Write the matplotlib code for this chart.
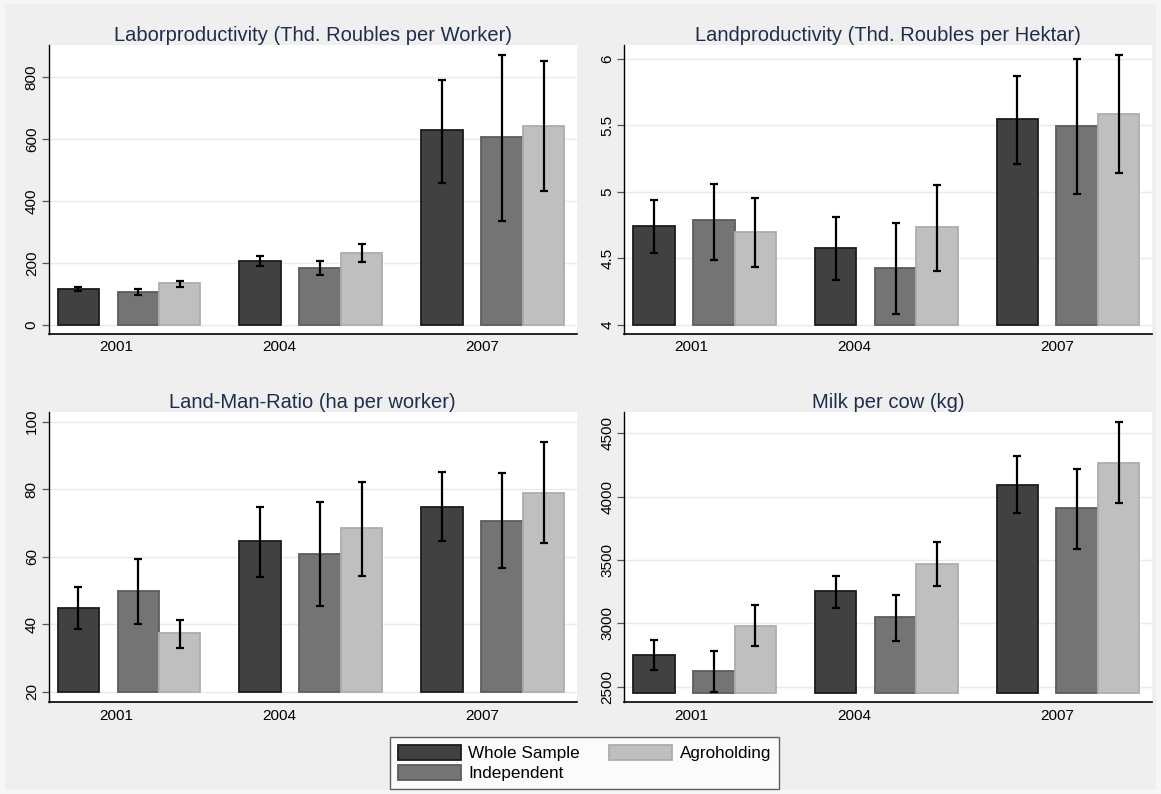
import matplotlib
matplotlib.use("Agg")
import matplotlib.pyplot as plt
import numpy as np
from matplotlib.patches import Patch, Rectangle

plt.rcParams['font.family'] = ['Liberation Sans', 'DejaVu Sans']

years = ["2001", "2004", "2007"]
groups = ["Whole Sample", "Independent", "Agroholding"]

# rows: Whole Sample, Independent, Agroholding ; columns: 2001, 2004, 2007
labor_mean = [[116, 208, 628], [105, 183, 606], [134, 231, 644]]
labor_lo = [[110, 192, 459], [97, 161, 336], [124, 202, 433]]
labor_hi = [[124, 224, 791], [117, 205, 872], [143, 263, 853]]

land_mean = [[4.742, 4.576, 5.546], [4.787, 4.426, 5.499], [4.697, 4.734, 5.584]]
land_lo = [[4.541, 4.338, 5.211], [4.489, 4.083, 4.987], [4.436, 4.409, 5.143]]
land_hi = [[4.942, 4.812, 5.872], [5.063, 4.769, 6.0], [4.957, 5.055, 6.033]]

ratio_mean = [[44.8, 64.7, 74.8], [49.7, 60.7, 70.7], [37.5, 68.4, 79.0]]
ratio_lo = [[38.7, 54.0, 64.6], [40.0, 45.4, 56.6], [33.0, 54.3, 64.0]]
ratio_hi = [[51.0, 74.7, 85.2], [59.4, 76.1, 84.8], [41.3, 82.2, 94.0]]

milk_mean = [[2750, 3258, 4095], [2626, 3047, 3908], [2982, 3471, 4268]]
milk_lo = [[2632, 3121, 3874], [2461, 2863, 3587], [2821, 3295, 3950]]
milk_hi = [[2871, 3376, 4321], [2784, 3226, 4218], [3145, 3642, 4587]]

fills = ["#414141", "#747474", "#bfbfbf"]
edges = ["#1c1c1c", "#5c5c5c", "#adadad"]
navy = "#1f2d4d"
W, H = 1161, 794

# panel layout in pixels: left, right, top, bottom
panels = [
    ("Laborproductivity (Thd. Roubles per Worker)", labor_mean, labor_lo, labor_hi,
     0, [0, 200, 400, 600, 800], ["0", "200", "400", "600", "800"], (-27.5, 904),
     (48.5, 577, 45, 333.5)),
    ("Landproductivity (Thd. Roubles per Hektar)", land_mean, land_lo, land_hi,
     4, [4, 4.5, 5, 5.5, 6], ["4", "4.5", "5", "5.5", "6"], (3.936, 6.105),
     (624.3, 1152, 45, 333.5)),
    ("Land-Man-Ratio (ha per worker)", ratio_mean, ratio_lo, ratio_hi,
     20, [20, 40, 60, 80, 100], ["20", "40", "60", "80", "100"], (17.04, 102.96),
     (48.5, 577, 411.7, 701.7)),
    ("Milk per cow (kg)", milk_mean, milk_lo, milk_hi,
     2447, [2500, 3000, 3500, 4000, 4500], ["2500", "3000", "3500", "4000", "4500"], (2381.6, 4670.5),
     (624.3, 1152, 411.7, 701.7)),
]

fig = plt.figure(figsize=(W / 100, H / 100), dpi=100, facecolor="#f5f6f6")
fig.add_artist(Rectangle((5 / W, 4 / H), (W - 10) / W, (H - 8) / H, transform=fig.transFigure,
                         facecolor="#efefef", edgecolor="none", zorder=0))

step = 182
offsets = [0, 60, 101.5]
width = 41.5
base_x = np.arange(len(years)) * step
tick_x = [37.7, step + 18.7, 2 * step + 40]

for title, mean, lo, hi, base, yt, ytl, ylim, box in panels:
    l, r, t, b = box
    ax = fig.add_axes([l / W, 1 - b / H, (r - l) / W, (b - t) / H])
    ax.set_facecolor("white")
    mean = np.array(mean, dtype=float)
    lo = np.array(lo, dtype=float)
    hi = np.array(hi, dtype=float)
    for i in range(3):
        x = base_x + offsets[i]
        ax.bar(x, mean[i] - base, bottom=base, width=width, color=fills[i],
               edgecolor=edges[i], linewidth=1.3, zorder=2 + i)
    for i in range(3):
        x = base_x + offsets[i]
        ax.errorbar(x, mean[i], yerr=[mean[i] - lo[i], hi[i] - mean[i]], fmt="none",
                    ecolor="black", elinewidth=1.6, capsize=2.9, capthick=1.6, zorder=10)
    ax.set_xlim(-29.8, 2 * step + 135)
    ax.set_ylim(*ylim)
    ax.set_yticks(yt)
    ax.set_yticklabels(ytl, rotation=90, va="center")
    ax.set_xticks(tick_x)
    ax.set_xticklabels(years)
    ax.tick_params(axis="x", length=0, pad=5, labelsize=11)
    ax.tick_params(axis="y", length=5, width=0.9, color="#555555", pad=2, labelsize=11)
    ax.grid(axis="y", color="#e4ecec", linewidth=1, zorder=0)
    ax.set_axisbelow(True)
    for s in ["top", "right"]:
        ax.spines[s].set_visible(False)
    ax.spines["left"].set_linewidth(1)
    ax.spines["bottom"].set_linewidth(1.2)
    ax.set_title(title, fontsize=14.5, color=navy, pad=3)

handles = [Patch(facecolor=fills[i], edgecolor=edges[i], linewidth=1.3, label=groups[i]) for i in range(3)]
leg = fig.legend(handles=handles, loc="lower center", bbox_to_anchor=(584.5 / W, 5 / H),
                 ncol=2, fontsize=12.3, frameon=True, fancybox=False, borderaxespad=0,
                 handlelength=3.7, handleheight=1.0, handletextpad=0.45, columnspacing=1.7,
                 labelspacing=0.2, borderpad=0.45)
leg.get_frame().set_edgecolor("#3a3a3a")
leg.get_frame().set_linewidth(1)
leg.get_frame().set_facecolor("white")

fig.savefig("out.png", dpi=100, facecolor=fig.get_facecolor())
